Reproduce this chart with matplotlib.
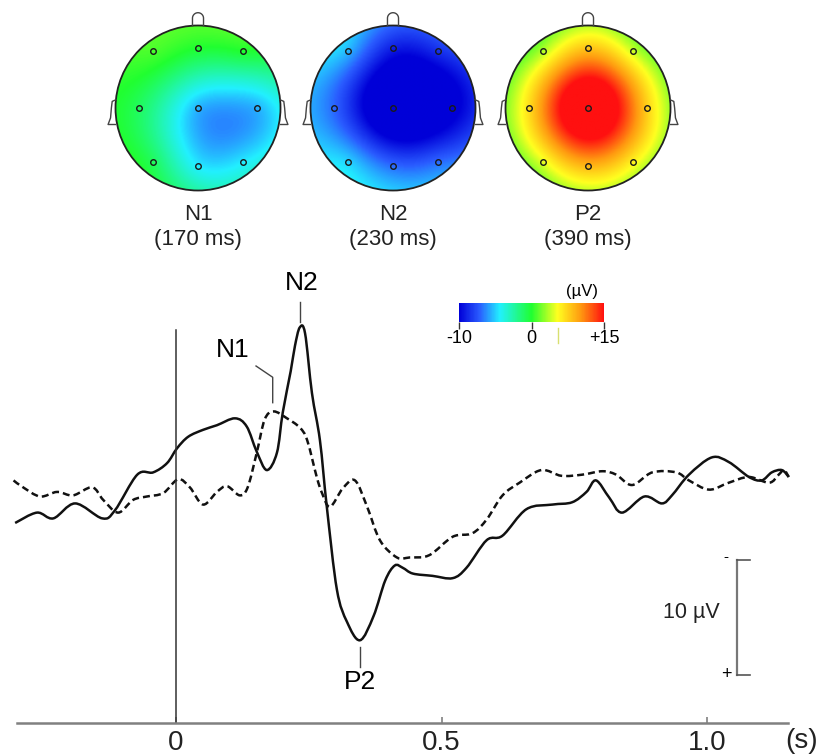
import numpy as np
import matplotlib
matplotlib.use("Agg")
import matplotlib.pyplot as plt
from matplotlib.colors import LinearSegmentedColormap, TwoSlopeNorm
from matplotlib.cm import ScalarMappable
from matplotlib.patches import Circle, PathPatch
from matplotlib.path import Path

plt.rcParams['font.family'] = ['Liberation Sans', 'DejaVu Sans']

# grand-average ERP (s, uV); negative plotted upward
t_solid = [-0.303, -0.262, -0.231, -0.190, -0.139, -0.115, -0.073, -0.043, -0.017, 0.002,
           0.023, 0.051, 0.077, 0.111, 0.133, 0.152, 0.171, 0.190, 0.201, 0.216,
           0.224, 0.233, 0.243, 0.256, 0.271, 0.284, 0.303, 0.322, 0.3465,
           0.372, 0.394, 0.412, 0.427, 0.446, 0.483, 0.521, 0.547, 0.585,
           0.615, 0.660, 0.709, 0.746, 0.773, 0.791, 0.816, 0.840, 0.882, 0.915,
           0.934, 0.966, 1.009, 1.041, 1.079, 1.103, 1.122, 1.141, 1.154]
v_solid = [2.0, 1.1, 1.6, 0.3, 1.6, 0.9, -2.2, -2.4, -3.2, -4.5,
           -5.5, -6.1, -6.5, -7.1, -6.4, -4.2, -2.6, -4.1, -7.6, -11.2,
           -13.4, -15.0, -14.5, -9.3, -5.2, 0.6, 7.8, 10.6, 12.2,
           10.1, 7.0, 5.7, 5.9, 6.4, 6.6, 6.8, 5.9, 3.5,
           3.1, 0.8, 0.4, 0.2, -0.7, -1.7, -0.2, 1.1, -0.3, 0.3,
           -0.4, -2.2, -3.7, -3.3, -2.0, -1.7, -2.4, -2.6, -2.0]

t_dash = [-0.306, -0.288, -0.256, -0.224, -0.194, -0.158, -0.137, -0.109, -0.081, -0.055,
          -0.024, 0.004, 0.026, 0.051, 0.077, 0.096, 0.120, 0.135, 0.152, 0.167,
          0.184, 0.209, 0.233, 0.247, 0.265, 0.275, 0.290, 0.314, 0.337, 0.360,
          0.384, 0.416, 0.440, 0.477, 0.521, 0.558, 0.585, 0.615, 0.647, 0.688,
          0.726, 0.765, 0.803, 0.829, 0.859, 0.897, 0.942, 0.966, 1.004, 1.041,
          1.079, 1.117, 1.135, 1.145, 1.154]
v_dash = [-1.7, -1.1, -0.3, -0.7, -0.4, -1.1, 0.0, 1.1, 0.0, -0.3,
          -0.6, -1.8, -1.1, 0.4, -0.7, -1.2, -0.4, -1.1, -4.1, -7.0,
          -7.7, -7.1, -6.3, -5.2, -2.0, -0.6, 0.6, -1.0, -1.7, 0.6,
          3.5, 5.0, 5.0, 4.8, 3.2, 2.9, 1.7, -0.4, -1.5, -2.6,
          -2.1, -2.2, -2.5, -2.2, -1.3, -2.4, -2.4, -1.7, -0.9, -1.5,
          -2.0, -1.5, -2.2, -2.6, -2.0]

# scalp maps: electrode layout (F3 Fz F4 C3 Cz C4 P3 Pz P4) and amplitudes
elec_x = [-0.55, 0.0, 0.55, -0.72, 0.0, 0.72, -0.55, 0.0, 0.55]
elec_y = [0.69, 0.73, 0.69, 0.0, 0.0, 0.0, -0.65, -0.70, -0.65]
map_names = ['N1', 'N2', 'P2']
map_times = ['(170 ms)', '(230 ms)', '(390 ms)']
n1_vals = [1.0, 0.0, 0.0, -1.0, -5.5, -5.5, -1.0, -4.5, -4.5]
n2_vals = [-5.5, -9.0, -8.5, -7.0, -13.0, -10.5, -5.0, -7.0, -7.0]
p2_vals = [3.5, 8.0, 4.0, 7.0, 20.0, 7.5, 5.0, 9.0, 6.0]
map_vals = [n1_vals, n2_vals, p2_vals]

cbar_ticks = [-10, 0, 15]
cbar_labels = ['-10', '0', '+15']

topo_cmap = LinearSegmentedColormap.from_list('topo', [
    (0.0, '#0000d8'), (0.14, '#2a5cff'), (0.28, '#22f0ff'), (0.5, '#20ff30'),
    (0.68, '#ffff20'), (0.84, '#ff9a10'), (1.0, '#ff1010')])
norm = TwoSlopeNorm(vmin=-10, vcenter=0, vmax=15)


def biharmonic(xe, ye, ve, gx, gy):
    # biharmonic spline interpolation, as used for scalp topographies
    xe, ye, ve = map(np.asarray, (xe, ye, ve))
    d = np.hypot(xe[:, None] - xe[None, :], ye[:, None] - ye[None, :])
    G = d ** 2 * (np.log(d + (d == 0)) - 1)
    w = np.linalg.solve(G, ve)
    dg = np.hypot(gx.ravel()[:, None] - xe[None, :], gy.ravel()[:, None] - ye[None, :])
    Gg = dg ** 2 * (np.log(dg + (dg == 0)) - 1)
    return (Gg @ w).reshape(gx.shape)


def smooth_path(t, v):
    # Catmull-Rom curve through the samples, as cubic Bezier segments
    p = np.column_stack([t, v])
    pe = np.vstack([p[0], p, p[-1]])
    verts, codes = [p[0]], [Path.MOVETO]
    for i in range(len(p) - 1):
        p0, p1, p2, p3 = pe[i], pe[i + 1], pe[i + 2], pe[i + 3]
        verts += [p1 + (p2 - p0) / 6, p2 - (p3 - p1) / 6, p2]
        codes += [Path.CURVE4] * 3
    return Path(verts, codes)


fig = plt.figure(figsize=(8.22, 7.56), dpi=100)
W, H = 822.0, 756.0

# ---- waveform panel ----
ax = fig.add_axes([0, (H - 722.7) / H, 1, 722.7 / H])
ax.set_xlim(-0.3315, 1.2166)
ax.set_ylim(19.37, -43.48)
for s in ['top', 'right', 'left']:
    ax.spines[s].set_visible(False)
ax.spines['bottom'].set_bounds(-0.30, 1.1525)
ax.spines['bottom'].set_color('#808080')
ax.spines['bottom'].set_linewidth(1.8)
ax.set_yticks([])
ax.set_xticks([0, 0.5, 1.0])
ax.set_xticklabels(['0', '0.5', '1.0'])
ax.tick_params(axis='x', direction='in', length=4, width=1.2, color='#808080',
               labelsize=20, labelcolor='#222222', pad=5)
ax.text(1.179, 21.0, '(s)', fontsize=20, color='#222222', ha='center', va='center', clip_on=False)

ax.plot([0, 0], [19.37, -14.8], color='#333333', lw=1.1)
ax.add_patch(PathPatch(smooth_path(t_dash, v_dash), fill=False, ec='#111111', lw=1.8,
                       linestyle=(0, (2.8, 1.6))))
ax.add_patch(PathPatch(smooth_path(t_solid, v_solid), fill=False, ec='#111111', lw=1.8))

# peak labels
ax.text(0.2373, -18.9, 'N2', fontsize=19, ha='center', va='center')
ax.plot([0.2335, 0.2335], [-17.2, -15.5], color='#444444', lw=1.0)
ax.text(0.1073, -13.0, 'N1', fontsize=19, ha='center', va='center')
ax.plot([0.1507, 0.1821, 0.1821], [-11.65, -10.67, -8.46], color='#444444', lw=1.0)
ax.text(0.3465, 15.8, 'P2', fontsize=19, ha='center', va='center')
ax.plot([0.3465, 0.3465], [12.8, 14.5], color='#444444', lw=1.0)

# 10 uV scale bar
bar_t, bar_top = 1.0565, 5.22
ax.plot([bar_t, bar_t], [bar_top, bar_top + 10], color='#777777', lw=1.6)
ax.plot([bar_t, 1.081], [bar_top, bar_top], color='#555555', lw=1.2)
ax.plot([bar_t, 1.081], [bar_top + 10, bar_top + 10], color='#555555', lw=1.2)
ax.text(1.0358, bar_top - 0.3, '-', fontsize=11, ha='center', va='center')
ax.text(1.0358, bar_top + 10, '+', fontsize=13, ha='center', va='center')
ax.text(0.970, bar_top + 4.6, '10 \u00b5V', fontsize=15.5, ha='center', va='center', color='#222222')

# ---- scalp maps ----
r_px = 82.5
gx, gy = np.meshgrid(np.linspace(-1, 1, 201), np.linspace(-1, 1, 201))
for i, cx in enumerate([198, 393, 588]):
    left = (cx - 1.3 * r_px) / W
    bottom = (H - (108 + 1.85 * r_px)) / H
    m = fig.add_axes([left, bottom, 2.6 * r_px / W, 3.15 * r_px / H])
    m.set_xlim(-1.3, 1.3)
    m.set_ylim(-1.85, 1.3)
    m.axis('off')
    z = biharmonic(elec_x, elec_y, map_vals[i], gx, gy)
    im = m.imshow(z, extent=[-1, 1, -1, 1], origin='lower', cmap=topo_cmap, norm=norm,
                  interpolation='bilinear')
    im.set_clip_path(Circle((0, 0), 1.0, transform=m.transData))
    m.add_patch(Circle((0, 0), 1.0, fill=False, ec='#222222', lw=1.3))
    # nose
    th = np.linspace(0, np.pi, 30)
    nx = np.concatenate([[0.067], 0.067 * np.cos(th), [-0.067]])
    ny = np.concatenate([[0.997], 1.088 + 0.067 * np.sin(th), [0.997]])
    m.plot(nx, ny, color='#444444', lw=1.0)
    # ears
    ex = np.array([-0.995, -1.04, -1.05, -1.06, -1.09, -1.0])
    ey = np.array([0.10, 0.08, 0.0, -0.12, -0.20, -0.20])
    m.plot(ex, ey, color='#444444', lw=1.0)
    m.plot(-ex, ey, color='#444444', lw=1.0)
    m.plot(elec_x, elec_y, 'o', ms=4, mfc='none', mec='#1a1a1a', mew=1.0)
    m.text(0, -1.285, map_names[i], fontsize=16, ha='center', va='center', color='#222222')
    m.text(0, -1.60, map_times[i], fontsize=16, ha='center', va='center', color='#222222')

# ---- colour scale ----
cax = fig.add_axes([459 / W, (H - 322) / H, 145 / W, 19 / H])
cb = fig.colorbar(ScalarMappable(norm=norm, cmap=topo_cmap), cax=cax, orientation='horizontal')
cb.outline.set_visible(False)
cb.set_ticks(cbar_ticks)
cb.set_ticklabels(cbar_labels)
cax.tick_params(axis='x', length=5, width=1.0, color='#333333', labelsize=13, pad=1)
cax.plot([5.4, 5.4], [-0.32, -1.1], color='#d8e070', lw=1.0, clip_on=False,
         transform=cax.get_xaxis_transform())
cax.text(0.848, 1.58, '(\u00b5V)', fontsize=12, ha='center', va='center', transform=cax.transAxes)

fig.savefig('out.png', dpi=100)
